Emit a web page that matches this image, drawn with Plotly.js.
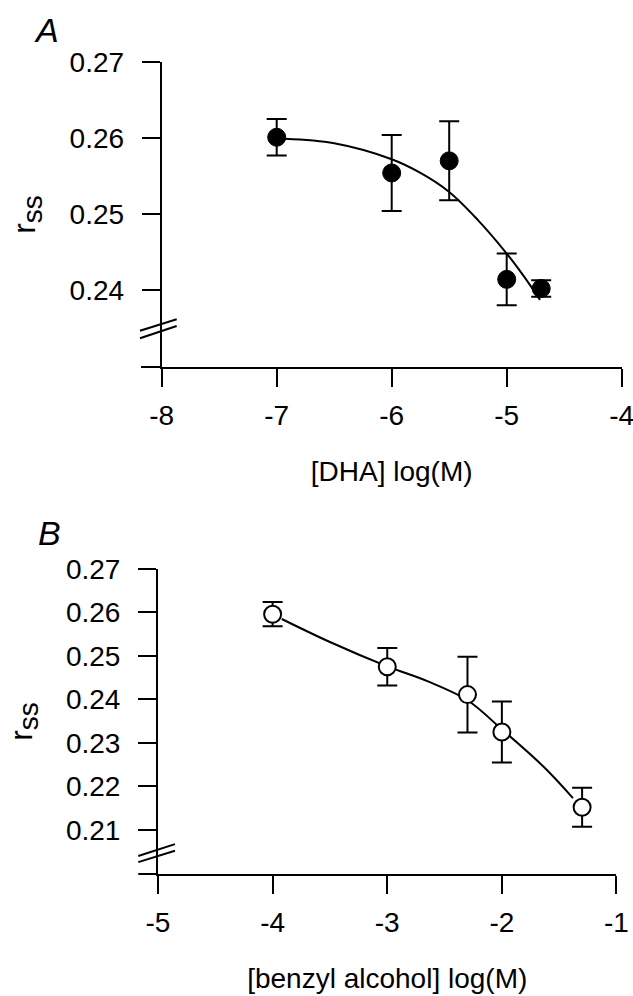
<!DOCTYPE html>
<html>
<head>
<meta charset="utf-8">
<script src="https://cdn.plot.ly/plotly-3.0.1.min.js"></script>
<style>html,body{margin:0;padding:0;background:#fff;}#chart{width:633px;height:996px;}</style>
</head>
<body>
<div id="chart"></div>
<script>
// Panel A: DHA
const dhaLogM = [-7, -6, -5.5, -5, -4.7];
const dhaRss = [0.2601, 0.2554, 0.2570, 0.2414, 0.2402];
const dhaErr = [0.0024, 0.0050, 0.0052, 0.0034, 0.0011];
const dhaFitX = [-6.93, -6.5, -6.0, -5.75, -5.5, -5.25, -5.0, -4.85, -4.71];
const dhaFitY = [0.2599, 0.2593, 0.2572, 0.2554, 0.2529, 0.2492, 0.2448, 0.2418, 0.2387];

// Panel B: benzyl alcohol
const baLogM = [-4, -3, -2.3, -2, -1.3];
const baRss = [0.2596, 0.2475, 0.2411, 0.2325, 0.2152];
const baErr = [0.0028, 0.0043, 0.0087, 0.0070, 0.0045];
const baFitX = [-3.92, -3.5, -3.0, -2.65, -2.3, -2.0, -1.64, -1.38];
const baFitY = [0.2585, 0.2532, 0.2476, 0.2442, 0.2398, 0.2331, 0.2246, 0.2173];

const ticksA_x = [-8, -7, -6, -5, -4];
const ticksA_y = [0.24, 0.25, 0.26, 0.27];
const ticksB_x = [-5, -4, -3, -2, -1];
const ticksB_y = [0.21, 0.22, 0.23, 0.24, 0.25, 0.26, 0.27];

const FONT = 'Liberation Sans, Arial, Helvetica, sans-serif';

const traces = [
  {x: dhaFitX, y: dhaFitY, xaxis: 'x', yaxis: 'y', mode: 'lines', type: 'scatter',
   line: {color: '#000', width: 2, shape: 'spline'}, hoverinfo: 'skip'},
  {x: dhaLogM, y: dhaRss, xaxis: 'x', yaxis: 'y', mode: 'markers', type: 'scatter',
   marker: {color: '#000', size: 18, line: {color: '#000', width: 1}},
   error_y: {type: 'data', array: dhaErr, visible: true, color: '#000', thickness: 2, width: 10}},
  {x: baFitX, y: baFitY, xaxis: 'x2', yaxis: 'y2', mode: 'lines', type: 'scatter',
   line: {color: '#000', width: 2, shape: 'spline'}, hoverinfo: 'skip'},
  {x: baLogM, y: baRss, xaxis: 'x2', yaxis: 'y2', mode: 'markers', type: 'scatter',
   marker: {color: '#fff', size: 17, line: {color: '#000', width: 2}},
   error_y: {type: 'data', array: baErr, visible: true, color: '#000', thickness: 2, width: 10}}
];

function xax(domain, range, vals, title, anchor) {
  return {
    domain: domain, range: range, anchor: anchor,
    tickmode: 'array', tickvals: vals, ticktext: vals.map(String),
    ticks: 'outside', ticklen: 18, tickwidth: 2, tickcolor: '#000',
    showline: true, linewidth: 2, linecolor: '#000',
    showgrid: false, zeroline: false, ticklabelstandoff: 4,
    ticklabeloverflow: 'allow',
    tickfont: {family: FONT, size: 28, color: '#000'},
    title: {text: title, font: {family: FONT, size: 28, color: '#000'}, standoff: 32},
    automargin: false
  };
}
function yax(domain, range, vals, anchor) {
  return {
    domain: domain, range: range, anchor: anchor,
    tickmode: 'array', tickvals: vals, ticktext: vals.map(v => v.toFixed(2)),
    ticks: 'outside', ticklen: 18, tickwidth: 2, tickcolor: '#000',
    showline: true, linewidth: 2, linecolor: '#000',
    showgrid: false, zeroline: false, ticklabelstandoff: 12,
    ticklabeloverflow: 'allow',
    tickfont: {family: FONT, size: 28, color: '#000'},
    title: {text: 'r<sub><span style="font-size:28px">ss</span></sub>', font: {family: FONT, size: 32, color: '#000'}, standoff: 24},
    automargin: false
  };
}

const brk = (xr, yr, x0, y0, x1, y1) => ({type: 'line', xref: xr, yref: yr, x0: x0, y0: y0, x1: x1, y1: y1,
  line: {color: '#000', width: 2}});

const layout = {
  width: 633, height: 996,
  margin: {l: 0, r: 0, t: 0, b: 0},
  paper_bgcolor: '#fff', plot_bgcolor: '#fff',
  showlegend: false,
  font: {family: FONT, color: '#000'},
  xaxis: xax([0.25545, 0.98215], [-8, -4], ticksA_x, '[DHA] log(M)', 'y'),
  yaxis: yax([0.63153, 0.93775], [0.22987, 0.27], ticksA_y, 'x'),
  xaxis2: xax([0.24961, 0.97393], [-5, -1], ticksB_x, '[benzyl alcohol] log(M)', 'y2'),
  yaxis2: yax([0.12249, 0.42871], [0.19983, 0.27], ticksB_y, 'x2'),
  shapes: [
    // x-axis line extension to the left of the y-axis
    {type: 'line', xref: 'x domain', yref: 'y domain', x0: -0.045, x1: 0, y0: 0, y1: 0, line: {color: '#000', width: 2}},
    {type: 'line', xref: 'x2 domain', yref: 'y2 domain', x0: -0.043, x1: 0, y0: 0, y1: 0, line: {color: '#000', width: 2}},
    // axis break marks
    brk('x domain', 'y domain', -0.0472, 0.119, 0.0326, 0.1564),
    brk('x domain', 'y domain', -0.0472, 0.0941, 0.0326, 0.1344),
    brk('x2 domain', 'y2 domain', -0.043, 0.059, 0.037, 0.098),
    brk('x2 domain', 'y2 domain', -0.043, 0.039, 0.037, 0.0764)
  ],
  annotations: [
    {text: '<i>A</i>', xref: 'paper', yref: 'paper', x: 47 / 633, y: 1 - 30 / 996,
     xanchor: 'center', yanchor: 'middle', showarrow: false, font: {family: FONT, size: 34, color: '#000'}},
    {text: '<i>B</i>', xref: 'paper', yref: 'paper', x: 49 / 633, y: 1 - 533 / 996,
     xanchor: 'center', yanchor: 'middle', showarrow: false, font: {family: FONT, size: 34, color: '#000'}}
  ]
};

Plotly.newPlot('chart', traces, layout, {displayModeBar: false, staticPlot: true});
</script>
</body>
</html>
